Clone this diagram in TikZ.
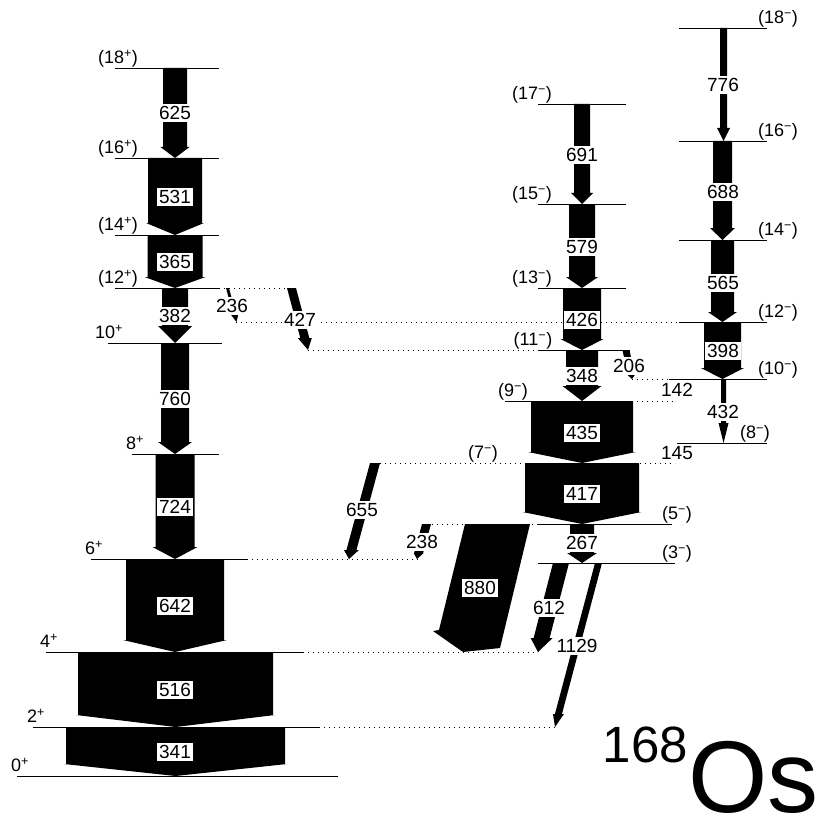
\documentclass[tikz,border=0pt]{standalone}
\usepackage{fontspec}
\setmainfont{Liberation Sans}
\usepackage{tikz}
\usetikzlibrary{positioning}

\newcommand{\spp}{\textsuperscript{+}}
\newcommand{\spm}{\textsuperscript{\char"2212}}
% gamma arrow: top centre x, top y, tip x, tip y, half width, head length, flange
\newcommand{\gtrans}[7]{%
  \pgfmathsetmacro{\gHy}{#4-#6}%
  \pgfmathsetmacro{\gHx}{#3+(#1-#3)*#6/(#4-#2)}%
  \fill (#1-#5,#2) -- (#1+#5,#2) -- (\gHx+#5,\gHy) -- (\gHx+#5+#7,\gHy) -- (#3,#4)
        -- (\gHx-#5-#7,\gHy) -- (\gHx-#5,\gHy) -- cycle;}

\begin{document}
\begin{tikzpicture}[x=1pt, y=-1pt]
        \tikzset{lvl/.style={line width=0.8pt},
                 ext/.style={line width=0.8pt, dash pattern=on 1pt off 4pt},
                 spin/.style={above, inner sep=1pt, text depth=3pt, font=\fontsize{18}{18}\selectfont},
                 glab/.style={fill=white, inner xsep=2pt, inner ysep=2pt, font=\fontsize{19}{19}\selectfont}}
        \useasboundingbox (0,0) rectangle (824,821);

        % ground band
        \draw[lvl] (115,68) -- (219,68);
        \draw[lvl] (115,158) -- (219,158);
        \draw[lvl] (115,235) -- (219,235);
        \draw[lvl] (115,288) -- (219,288);
        \draw[ext] (219,288) -- (291,288);
        \draw[lvl] (108,343) -- (222,343);
        \draw[lvl] (132,454) -- (219,454);
        \draw[lvl] (91,559) -- (247,559);
        \draw[ext] (247,559) -- (418,559);
        \draw[lvl] (46,652) -- (303,652);
        \draw[ext] (303,652) -- (538,652);
        \draw[lvl] (33,727) -- (319,727);
        \draw[ext] (319,727) -- (555,727);
        \draw[lvl] (17,776) -- (338,776);

        % odd band
        \draw[lvl] (538,104) -- (626,104);
        \draw[lvl] (538,204) -- (626,204);
        \draw[lvl] (538,288) -- (626,288);
        \draw[ext] (308,350) -- (538,350);
        \draw[lvl] (538,350) -- (630,350);
        \draw[lvl] (505,401) -- (632,401);
        \draw[ext] (632,401) -- (675,401);
        \draw[ext] (380,463) -- (675,463);
        \draw[ext] (427,524) -- (538,524);
        \draw[lvl] (538,524) -- (672,524);
        \draw[lvl] (538,563) -- (675,563);

        % even band
        \draw[lvl] (679,28) -- (767,28);
        \draw[lvl] (679,141) -- (767,141);
        \draw[lvl] (679,240) -- (767,240);
        \draw[ext] (236,322) -- (679,322);
        \draw[lvl] (679,322) -- (767,322);
        \draw[ext] (632,379) -- (669,379);
        \draw[lvl] (669,379) -- (767,379);
        \draw[lvl] (677,443) -- (767,443);

        % transitions
        \gtrans{175}{68}{175}{158}{12}{11}{2.5}
        \gtrans{175}{158}{175}{235}{27}{12}{2}
        \gtrans{175}{235}{175}{288}{27.5}{11}{3}
        \gtrans{175}{288}{175}{343}{13}{17}{4}
        \gtrans{175}{343}{175}{454}{14}{12}{3}
        \gtrans{175}{454}{175}{559}{19.5}{12}{3}
        \gtrans{175}{559}{175}{652}{49}{12}{3}
        \gtrans{175.5}{652}{175.5}{727}{97.5}{12}{2}
        \gtrans{175.5}{727}{175.5}{776}{109.5}{12}{2}
        \gtrans{582}{104}{582}{204}{8}{11}{3}
        \gtrans{582}{204}{582}{288}{13}{11}{3}
        \gtrans{582}{288}{582}{350}{19}{11}{2.5}
        \gtrans{582}{350}{582}{401}{16}{15}{3.5}
        \gtrans{582}{401}{582}{463}{51}{11}{3}
        \gtrans{582}{463}{582}{524}{57}{12}{2.5}
        \gtrans{582}{524}{582}{563}{12}{10}{3}
        \gtrans{723.5}{28}{723.5}{141}{3.5}{13}{3}
        \gtrans{722.5}{141}{722.5}{240}{9.5}{12}{3}
        \gtrans{722.5}{240}{722.5}{322}{11.5}{10}{3}
        \gtrans{722.5}{322}{722.5}{379}{18.5}{11}{3}
        \gtrans{723.5}{379}{723.5}{443}{2.5}{20}{2.5}
        \gtrans{227.5}{288}{236.5}{322}{1.5}{7}{2}
        \gtrans{291.5}{288}{308}{350}{4.5}{12}{2.5}
        \gtrans{626}{350}{632}{379}{3.5}{5}{1}
        \gtrans{375}{463}{349}{559}{5}{9}{2.5}
        \gtrans{426.5}{524}{417}{559}{4.5}{6}{0.5}
        \gtrans{561}{563}{538}{652}{8}{14}{3}
        \gtrans{598.5}{563}{555}{727}{3.5}{13}{2}
        \fill (465,524) -- (530,524) -- (500,648) -- (463,652) -- (433,631) -- (439,630) -- cycle;

        % energies
        \node[glab] (g625) at (175,113) {625};
        \node[glab] (g531) at (175,197) {531};
        \node[glab] (g365) at (175,262) {365};
        \node[glab] (g382) at (175,316) {382};
        \node[glab] (g760) at (175,399) {760};
        \node[glab] (g724) at (175,507) {724};
        \node[glab] (g642) at (175,606) {642};
        \node[glab] (g516) at (175,690) {516};
        \node[glab] (g341) at (175,752) {341};
        \node[glab] (g691) at (582,155) {691};
        \node[glab] (g579) at (582,247) {579};
        \node[glab] (g426) at (582,320) {426};
        \node[glab] (g348) at (582,376) {348};
        \node[glab] (g435) at (582,433) {435};
        \node[glab] (g417) at (582,494) {417};
        \node[glab] (g267) at (582,543) {267};
        \node[glab] (g776) at (723,85) {776};
        \node[glab] (g688) at (723,192) {688};
        \node[glab] (g565) at (723,283) {565};
        \node[glab] (g398) at (723,351) {398};
        \node[glab] (g432) at (723,412) {432};
        \node[glab] (g236) at (232,306) {236};
        \node[glab] (g427) at (300,320) {427};
        \node[glab] (g206) at (629,366) {206};
        \node[glab] (g142) at (677,390) {142};
        \node[glab] (g145) at (677,453) {145};
        \node[glab] (g655) at (362,510) {655};
        \node[glab] (g238) at (422,542) {238};
        \node[glab] (g880) at (480,588) {880};
        \node[glab] (g612) at (549,608) {612};
        \node[glab] (g1129) at (577,646) {1129};

        % spins
        \node[spin] (s18p) at (118,68) {(18\spp)};
        \node[spin] (s16p) at (118,158) {(16\spp)};
        \node[spin] (s14p) at (118,235) {(14\spp)};
        \node[spin] (s12p) at (118,288) {(12\spp)};
        \node[spin] (s10p) at (109,343) {10\spp};
        \node[spin] (s8p) at (135,454) {8\spp};
        \node[spin] (s6p) at (94,559) {6\spp};
        \node[spin] (s4p) at (49,652) {4\spp};
        \node[spin] (s2p) at (36,727) {2\spp};
        \node[spin] (s0p) at (20,776) {0\spp};
        \node[spin] (s17m) at (532,104) {(17\spm)};
        \node[spin] (s15m) at (532,204) {(15\spm)};
        \node[spin] (s13m) at (532,288) {(13\spm)};
        \node[spin] (s11m) at (533,350) {(11\spm)};
        \node[spin] (s9m) at (513,401) {(9\spm)};
        \node[spin] (s7m) at (483,463) {(7\spm)};
        \node[spin] (s5m) at (677,524) {(5\spm)};
        \node[spin] (s3m) at (677,563) {(3\spm)};
        \node[spin] (s18m) at (778,28) {(18\spm)};
        \node[spin] (s16m) at (778,141) {(16\spm)};
        \node[spin] (s14m) at (778,240) {(14\spm)};
        \node[spin] (s12m) at (778,322) {(12\spm)};
        \node[spin] (s10m) at (778,379) {(10\spm)};
        \node[spin] (s8m) at (755,443) {(8\spm)};

        \node[anchor=base east, inner sep=0pt, font=\fontsize{51}{51}\selectfont] (mass) at (688,762) {168};
        \node[anchor=base west, inner sep=0pt, font=\fontsize{102}{102}\selectfont] (elem) at (688,812) {Os};
    \end{tikzpicture}
\end{document}
